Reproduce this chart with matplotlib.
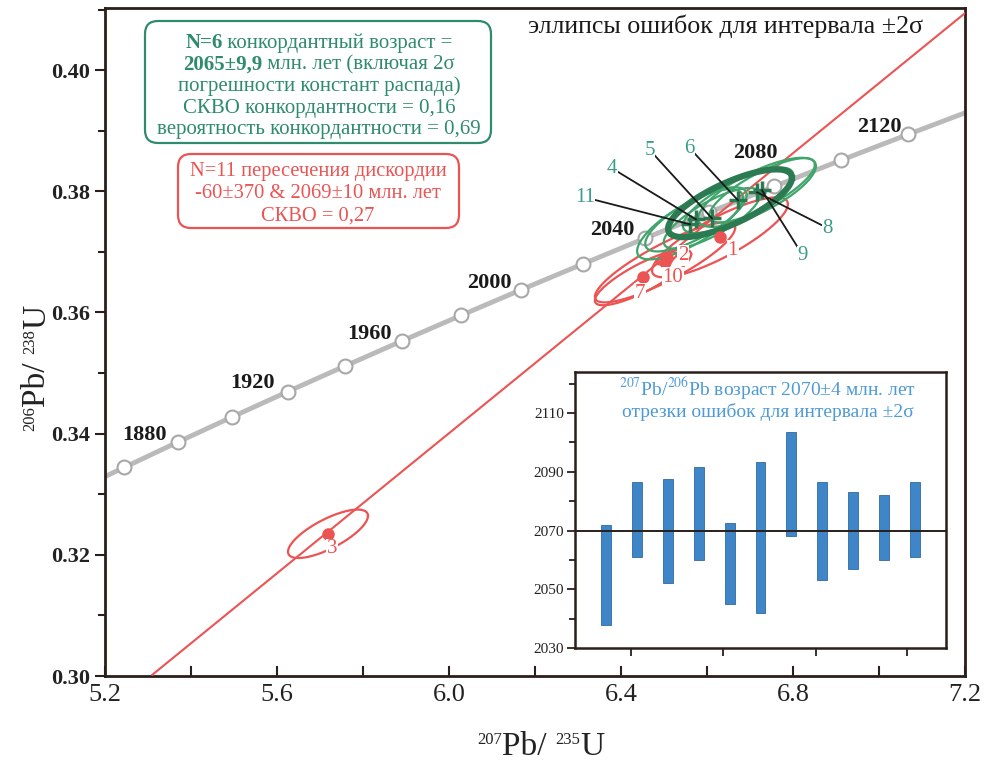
import numpy as np
import matplotlib
matplotlib.use("Agg")
import matplotlib.pyplot as plt
from matplotlib.patches import FancyBboxPatch
from matplotlib.ticker import MultipleLocator

plt.rcParams['font.family'] = ['Liberation Serif', 'DejaVu Serif']
plt.rcParams['mathtext.fontset'] = 'stix'

# concordia nodes (every 20 Ma)
conc_age = [1840, 1860, 1880, 1900, 1920, 1940, 1960, 1980, 2000, 2020, 2040, 2060, 2080, 2100, 2120, 2140]
conc_x = [5.1234, 5.2453, 5.3695, 5.4962, 5.6254, 5.7572, 5.8916, 6.0287, 6.1685, 6.3111,
          6.4566, 6.6049, 6.7562, 6.9105, 7.0678, 7.2283]
conc_y = [0.33031, 0.33445, 0.33861, 0.34277, 0.34695, 0.35113, 0.35533, 0.35954, 0.36377, 0.36800,
          0.37226, 0.37652, 0.38080, 0.38509, 0.38939, 0.39371]

age_lab = ['1880', '1920', '1960', '2000', '2040', '2080', '2120']
age_lab_x = [5.293, 5.544, 5.816, 6.095, 6.379, 6.712, 7.002]
age_lab_y = [0.3397, 0.3483, 0.3565, 0.3648, 0.3736, 0.3863, 0.3906]

# discordia
disc_x = [5.31, 7.20]
disc_y = [0.3002, 0.4094]

# concordant analyses (green)
green_id = ['11', '4', '5', '6', '8', '9']
green_x = [6.5605, 6.5744, 6.6116, 6.6721, 6.7163, 6.7279]
green_y = [0.37455, 0.37537, 0.37554, 0.37851, 0.37983, 0.38017]
green_sx = [0.123, 0.118, 0.112, 0.128, 0.137, 0.123]
green_sy = [0.00580, 0.00530, 0.00500, 0.00540, 0.00570, 0.00530]
green_rho = [0.76, 0.76, 0.78, 0.78, 0.76, 0.80]
green_lab_x = [6.316, 6.379, 6.467, 6.560, 6.881, 6.823]
green_lab_y = [0.3790, 0.3838, 0.3868, 0.3871, 0.3739, 0.3694]

# discordant analyses (red)
red_id = ['1', '2', '10', '7', '3']
red_x = [6.6302, 6.5070, 6.5023, 6.4512, 5.7186]
red_y = [0.37240, 0.36893, 0.36826, 0.36579, 0.32347]
red_sx = [0.158, 0.023, 0.163, 0.112, 0.093]
red_sy = [0.00660, 0.0010, 0.00660, 0.0046, 0.00400]
red_rho = [0.83, 0.70, 0.86, 0.83, 0.74]
red_lab_x = [6.660, 6.544, 6.521, 6.444, 5.728]
red_lab_y = [0.37025, 0.36942, 0.36579, 0.36314, 0.32099]

# concordia age ellipse
cage_x, cage_y, cage_sx, cage_sy, cage_rho = 6.6535, 0.37802, 0.144, 0.00560, 0.75

# inset 207Pb/206Pb ages
bar_lo = [2038, 2061, 2052, 2060, 2045, 2042, 2068, 2053, 2057, 2060, 2061]
bar_hi = [2072, 2086.5, 2087.5, 2091.5, 2072.5, 2093.5, 2103.5, 2086.5, 2083, 2082, 2086.5]
mean_age = 2070

FRAME = '#2a1f1a'
GREEN = '#2e8b6c'
GREEN_THIN = '#3fa56b'
GREEN_THICK = '#2b7a52'
GREEN_LAB = '#3a9c8a'
RED = '#ec5353'
BLUE = '#3f86c8'
BLUE_TXT = '#4d9ad6'
TXT = '#222222'


def ellipse(cx, cy, sx, sy, rho):
    t = np.linspace(0, 2 * np.pi, 200)
    return cx + sx * np.cos(t), cy + sy * (rho * np.cos(t) + np.sqrt(1 - rho ** 2) * np.sin(t))


fig = plt.figure(figsize=(9.94, 7.65), dpi=100)
renderer = fig.canvas.get_renderer()
ax = fig.add_axes([105 / 994, 89 / 765, 860 / 994, 668 / 765])
ax.set_xlim(5.2, 7.2)
ax.set_ylim(0.30, 0.41025)

for s in ax.spines.values():
    s.set_color(FRAME)
    s.set_linewidth(2)
ax.xaxis.set_minor_locator(MultipleLocator(0.2))
ax.yaxis.set_minor_locator(MultipleLocator(0.01))
ax.set_xticks(np.arange(5.2, 7.21, 0.4))
ax.set_xticklabels(['%.1f' % v for v in np.arange(5.2, 7.21, 0.4)], fontsize=19)
ax.set_yticks(np.arange(0.30, 0.401, 0.02))
ax.set_yticklabels(['%.2f' % v for v in np.arange(0.30, 0.401, 0.02)], fontsize=16, fontweight='bold')
ax.tick_params(axis='x', which='both', direction='in', colors=FRAME, width=1.5)
ax.tick_params(axis='x', which='major', length=7, pad=6)
ax.tick_params(axis='x', which='minor', length=7)
ax.tick_params(axis='y', which='both', direction='out', colors=FRAME, width=1.5)
ax.tick_params(axis='y', which='major', length=7)
ax.tick_params(axis='y', which='minor', length=5)
ax.tick_params(labelcolor=TXT)

# concordia
ax.plot(conc_x, conc_y, color='#bababa', lw=3.5, zorder=2,
        marker='o', markersize=10, markerfacecolor='white', markeredgecolor='#a8a8a8',
        markeredgewidth=1.5, markevery=slice(1, 15))
for lab, x, y in zip(age_lab, age_lab_x, age_lab_y):
    ax.text(x, y, lab, fontsize=16, fontweight='bold', ha='center', va='center', color='#1a1a1a', zorder=6)

# discordia
ax.plot(disc_x, disc_y, color=RED, lw=1.5, zorder=3)

# red ellipses
for i in range(len(red_id)):
    ex, ey = ellipse(red_x[i], red_y[i], red_sx[i], red_sy[i], red_rho[i])
    ax.plot(ex, ey, color=RED, lw=1.6, zorder=3)
ax.plot(red_x, red_y, 'o', color=RED, markersize=8, zorder=5)
for lab, x, y in zip(red_id, red_lab_x, red_lab_y):
    ax.text(x, y, lab, fontsize=15, color=RED, ha='center', va='center', zorder=6,
            bbox=dict(fc='white', ec='none', pad=0.5))

# green ellipses
for i in range(len(green_id)):
    ex, ey = ellipse(green_x[i], green_y[i], green_sx[i], green_sy[i], green_rho[i])
    ax.plot(ex, ey, color=GREEN_THIN, lw=1.6, zorder=4)
ex, ey = ellipse(cage_x, cage_y, cage_sx, cage_sy, cage_rho)
ax.plot(ex, ey, color=GREEN_THICK, lw=4.5, zorder=4)
ax.plot(green_x, green_y, '+', color=GREEN_THICK, markersize=13, markeredgewidth=2.5, zorder=5)
for i, lab in enumerate(green_id):
    ax.plot([green_lab_x[i], green_x[i]], [green_lab_y[i], green_y[i]], color='#1a1a1a', lw=1.3, zorder=5)
    ax.text(green_lab_x[i], green_lab_y[i], lab, fontsize=15, color=GREEN_LAB, ha='center', va='center',
            zorder=6, bbox=dict(fc='white', ec='none', pad=0.3))

ax.text(0.721, 0.972, 'эллипсы ошибок для интервала ±2σ', transform=ax.transAxes,
        fontsize=18.7, ha='center', va='center', color='#1a1a1a')


def rich_label(segs, c, base, rot):
    # segs: (text, size, rise_px); c = centre along the text, base = baseline position (image px)
    texts = []
    for s, size, rise in segs:
        texts.append(fig.text(0, 0, s, transform=fig.dpi_scale_trans, fontsize=size, color=TXT,
                              rotation=rot, rotation_mode='anchor', ha='left', va='baseline'))
    ext = [t.get_window_extent(renderer) for t in texts]
    lens = [e.width if rot == 0 else e.height for e in ext]
    p = c - sum(lens) / 2 if rot == 0 else c + sum(lens) / 2
    for t, ln, (s, size, rise) in zip(texts, lens, segs):
        if rot == 0:
            t.set_position((p / 100, (765 - base + rise) / 100))
            p += ln
        else:
            t.set_position(((base - rise) / 100, (765 - p) / 100))
            p -= ln


rich_label([('207', 12, 11), ('Pb/ ', 24, 0), ('235', 12, 11), ('U', 24, 0)], 541, 755, 0)
rich_label([('206', 12, 11), ('Pb/ ', 24, 0), ('238', 12, 11), ('U', 24, 0)], 368, 45, 90)


def seg_line(segs, cx, cy, color, size):
    texts = []
    for s, w in segs:
        texts.append(fig.text(0, 0, s, transform=fig.dpi_scale_trans, fontsize=size, fontweight=w,
                              color=color, ha='left', va='baseline', zorder=5))
    widths = [t.get_window_extent(renderer).width for t in texts]
    x = cx - sum(widths) / 2
    for t, wd in zip(texts, widths):
        t.set_position((x / 100, (765 - cy) / 100))
        x += wd


def box(x0, y0, x1, y1, color):
    p = FancyBboxPatch((x0 / 100, (765 - y1) / 100), (x1 - x0) / 100, (y1 - y0) / 100,
                       boxstyle='round,pad=0,rounding_size=0.13', transform=fig.dpi_scale_trans,
                       fc='white', ec=color, lw=1.6, zorder=4)
    fig.add_artist(p)


box(145, 21, 491, 143, GREEN)
green_lines = [
    [('N=6', 'bold'), (' конкордантный возраст =', 'normal')],
    [('2065±9,9', 'bold'), (' млн. лет (включая 2σ', 'normal')],
    [('погрешности констант распада)', 'normal')],
    [('СКВО конкордантности = 0,16', 'normal')],
    [('вероятность конкордантности = 0,69', 'normal')],
]
for k, segs in enumerate(green_lines):
    seg_line(segs, 319, 48 + 21.5 * k, GREEN, 15.0)

box(178, 154, 459, 228, RED)
red_lines = ['N=11 пересечения дискордии', '-60±370 & 2069±10 млн. лет', 'СКВО = 0,27']
for k, s in enumerate(red_lines):
    seg_line([(s, 'normal')], 318, 176 + 22.5 * k, RED, 14.8)

# inset
axi = fig.add_axes([575 / 994, (765 - 648) / 765, 371 / 994, 276 / 765])
axi.set_xlim(0, 12)
axi.set_ylim(2030, 2124)
pos = np.arange(1, len(bar_lo) + 1)
axi.bar(pos, np.array(bar_hi) - np.array(bar_lo), bottom=bar_lo, width=0.32,
        color=BLUE, edgecolor='#2f6aa0', linewidth=0.6, zorder=2)
axi.axhline(mean_age, color=FRAME, lw=1.4, zorder=3)
axi.set_yticks([2030, 2050, 2070, 2090, 2110])
axi.yaxis.set_minor_locator(MultipleLocator(10))
axi.set_yticklabels(['2030', '2050', '2070', '2090', '2110'], fontsize=11)
axi.set_xticks([1.8, 4.8, 7.8, 10.75])
axi.set_xticklabels([])
axi.tick_params(which='both', direction='out', colors=FRAME, width=1.3, labelcolor=TXT)
axi.tick_params(which='major', length=6, pad=2)
axi.tick_params(which='minor', length=4)
for s in axi.spines.values():
    s.set_color(FRAME)
    s.set_linewidth(1.8)
axi.text(0.52, 0.94, r'$^{207}$Pb/$^{206}$Pb возраст 2070±4 млн. лет', transform=axi.transAxes,
         fontsize=14, ha='center', va='center', color=BLUE_TXT)
axi.text(0.52, 0.855, 'отрезки ошибок для интервала ±2σ', transform=axi.transAxes,
         fontsize=14, ha='center', va='center', color=BLUE_TXT)

fig.savefig('out.png', dpi=100)
